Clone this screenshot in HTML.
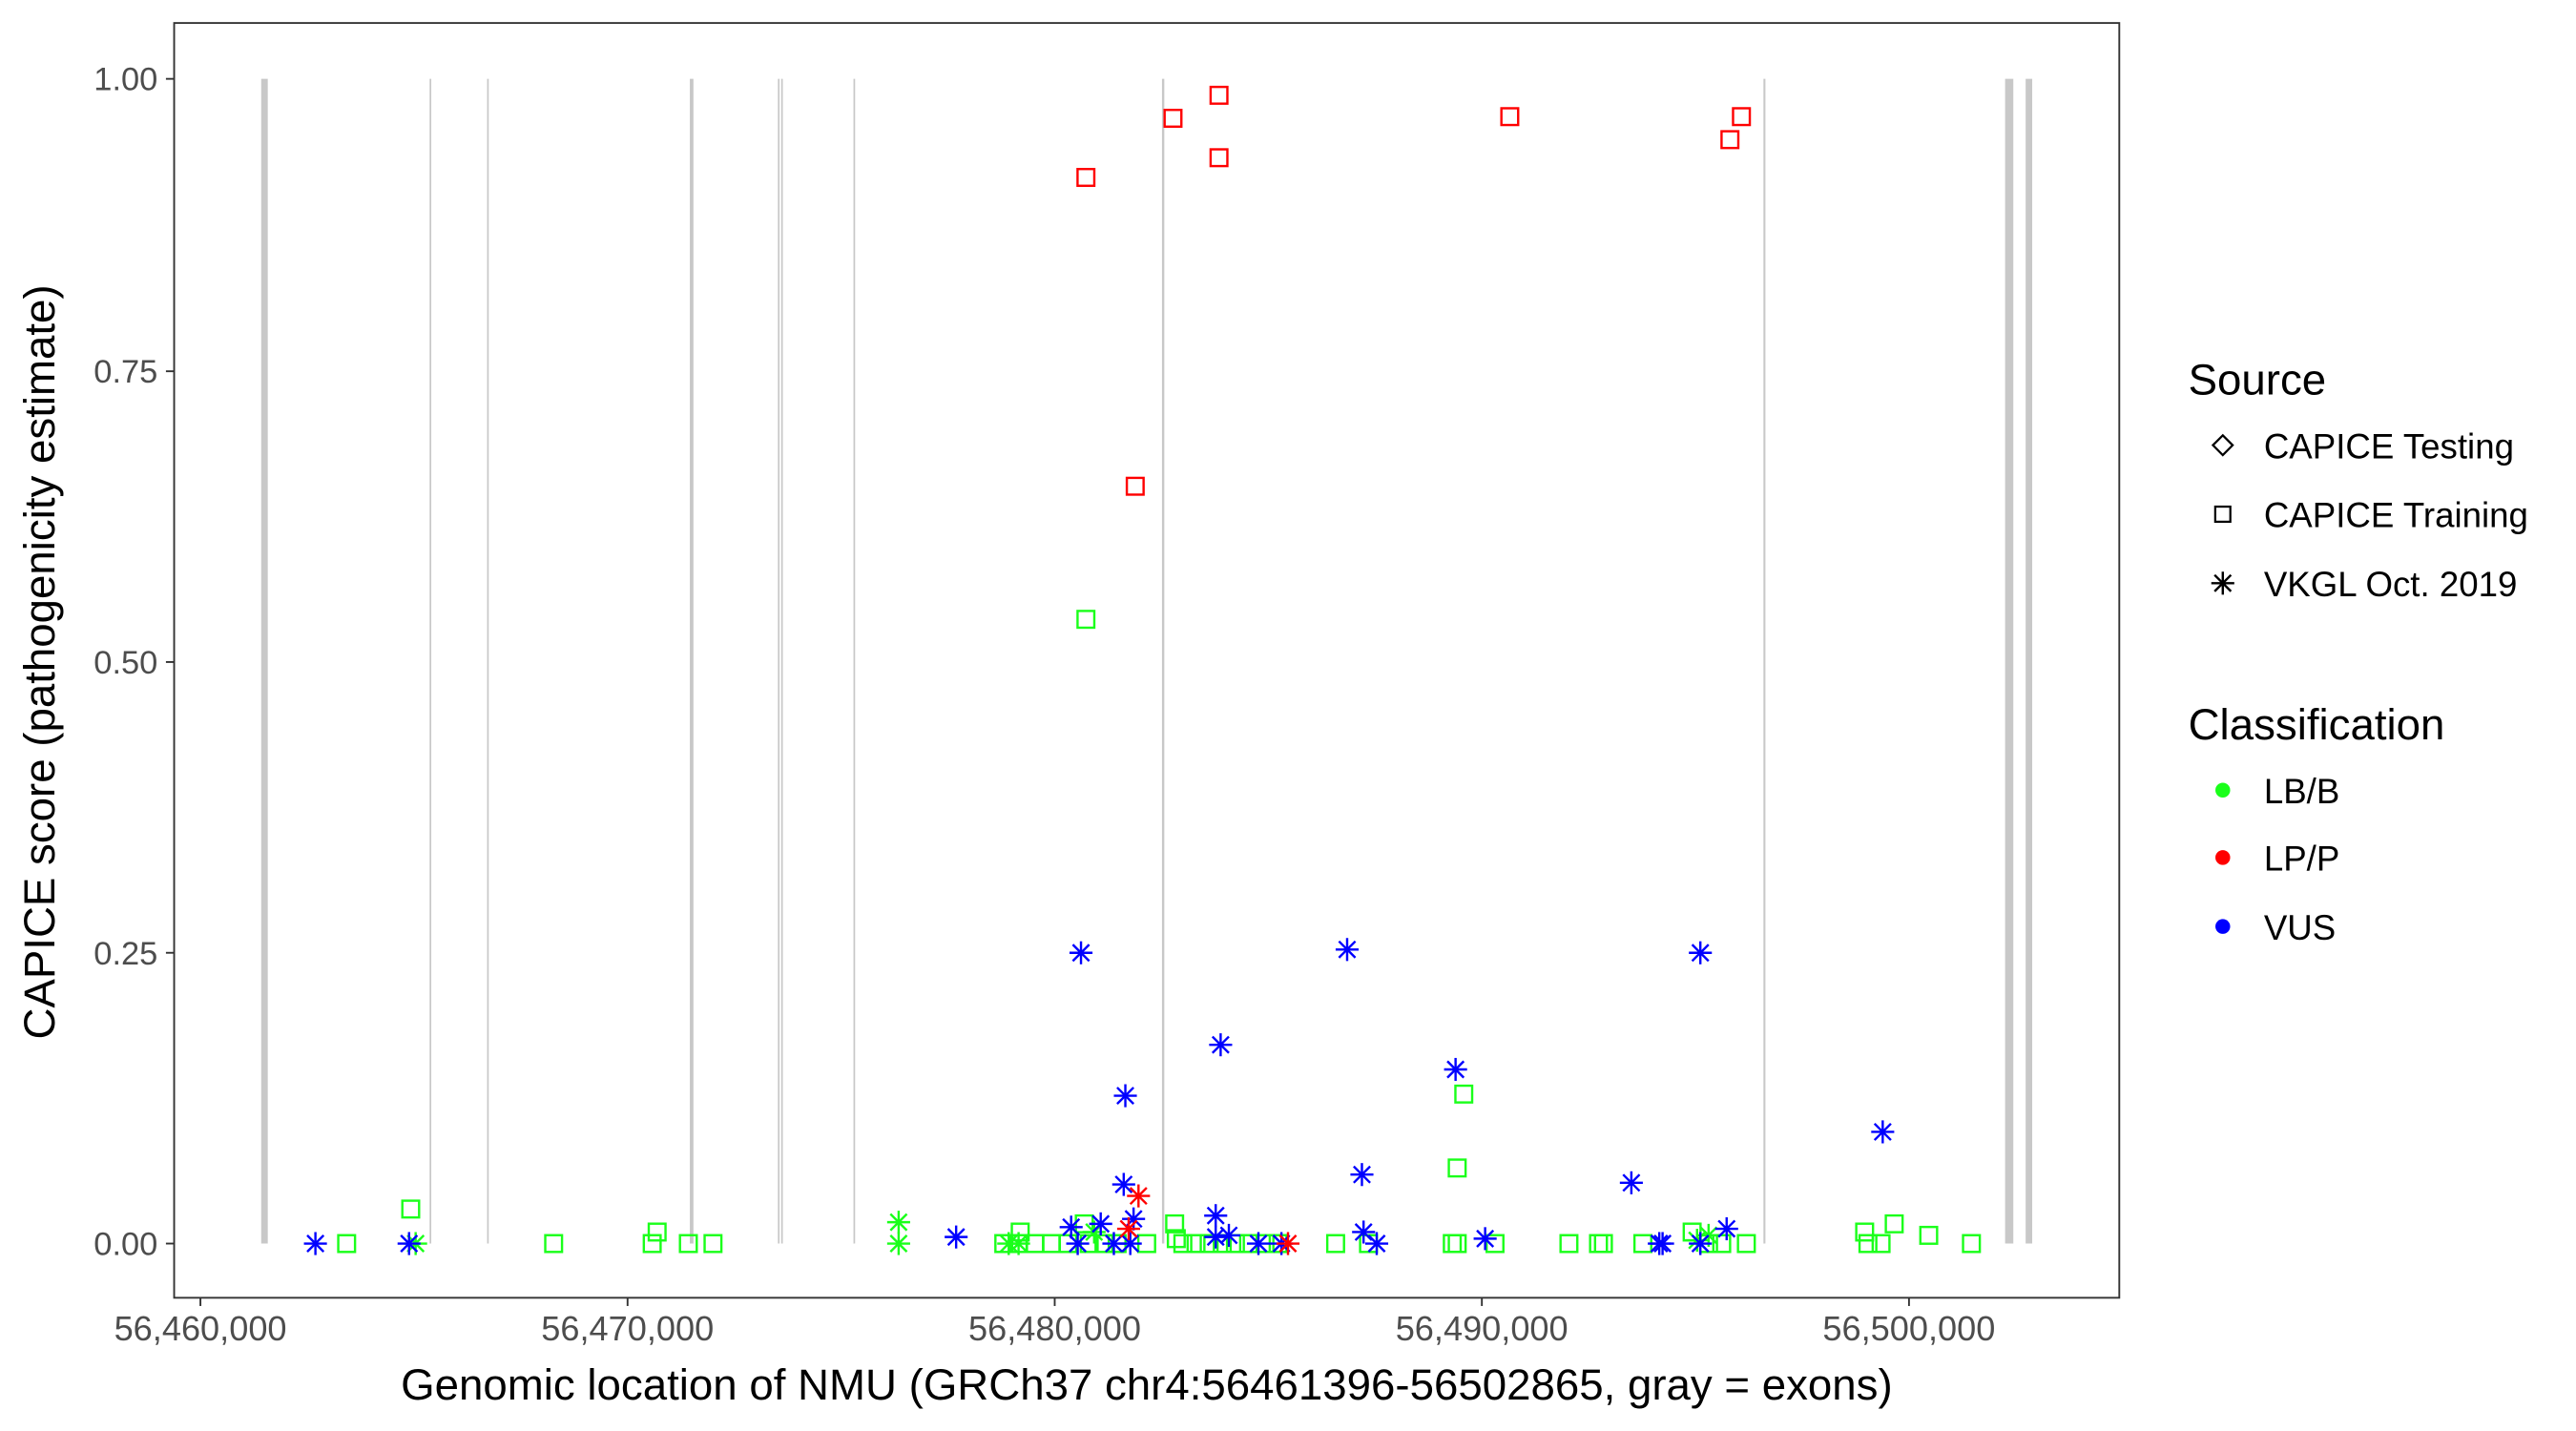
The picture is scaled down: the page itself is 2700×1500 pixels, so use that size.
<!DOCTYPE html>
<html><head><meta charset="utf-8"><style>
html,body{margin:0;padding:0;background:#fff;}
svg{display:block;}
text{font-family:"Liberation Sans",Arial,sans-serif;}
</style></head><body>
<svg width="2700" height="1500" viewBox="0 0 1568 871.1" preserveAspectRatio="none" xmlns="http://www.w3.org/2000/svg">
<defs>
<g id="sq"><rect x="-5.1" y="-5.1" width="10.2" height="10.2" fill="none" stroke-width="1.4"/></g>
<g id="st" stroke-width="1.4"><line x1="0" y1="-7" x2="0" y2="7"/><line x1="-7" y1="0" x2="7" y2="0"/><line x1="-5" y1="-5" x2="5" y2="5"/><line x1="-5" y1="5" x2="5" y2="-5"/></g>
</defs>
<rect x="106" y="14" width="1184" height="776" fill="#fff" stroke="#333" stroke-width="1.1"/>
<g stroke="#c8c8c8">
<line x1="161" y1="48" x2="161" y2="757" stroke-width="4"/>
<line x1="262" y1="48" x2="262" y2="757" stroke-width="1"/>
<line x1="297" y1="48" x2="297" y2="757" stroke-width="1"/>
<line x1="421" y1="48" x2="421" y2="757" stroke-width="2.2"/>
<line x1="474" y1="48" x2="474" y2="757" stroke-width="1"/>
<line x1="476" y1="48" x2="476" y2="757" stroke-width="1"/>
<line x1="520" y1="48" x2="520" y2="757" stroke-width="1"/>
<line x1="708" y1="48" x2="708" y2="757" stroke-width="1.4"/>
<line x1="1074" y1="48" x2="1074" y2="757" stroke-width="1.2"/>
<line x1="1223" y1="48" x2="1223" y2="757" stroke-width="5"/>
<line x1="1235" y1="48" x2="1235" y2="757" stroke-width="4"/>
</g>
<g stroke="#1aff1a">
<use href="#sq" x="661" y="377"/><use href="#sq" x="250" y="736"/><use href="#sq" x="211" y="757"/><use href="#sq" x="337" y="757"/>
<use href="#sq" x="397" y="757"/><use href="#sq" x="400" y="750"/><use href="#sq" x="419" y="757"/><use href="#sq" x="434" y="757"/>
<use href="#sq" x="887" y="711"/><use href="#sq" x="891" y="666"/><use href="#sq" x="621" y="750"/><use href="#sq" x="611" y="757"/>
<use href="#sq" x="620" y="757"/><use href="#sq" x="630" y="757"/><use href="#sq" x="640" y="757"/><use href="#sq" x="650" y="757"/>
<use href="#sq" x="660" y="745"/><use href="#sq" x="663" y="757"/><use href="#sq" x="672" y="757"/><use href="#sq" x="680" y="757"/>
<use href="#sq" x="698" y="757"/><use href="#sq" x="715" y="745"/><use href="#sq" x="716" y="754"/><use href="#sq" x="720" y="757"/>
<use href="#sq" x="728" y="757"/><use href="#sq" x="736" y="757"/><use href="#sq" x="744" y="757"/><use href="#sq" x="752" y="757"/>
<use href="#sq" x="760" y="757"/><use href="#sq" x="770" y="757"/><use href="#sq" x="778" y="757"/><use href="#sq" x="813" y="757"/>
<use href="#sq" x="833" y="757"/><use href="#sq" x="884" y="757"/><use href="#sq" x="887" y="757"/><use href="#sq" x="910" y="757"/>
<use href="#sq" x="955" y="757"/><use href="#sq" x="973" y="757"/><use href="#sq" x="976" y="757"/><use href="#sq" x="1000" y="757"/>
<use href="#sq" x="1030" y="750"/><use href="#sq" x="1040" y="757"/><use href="#sq" x="1048" y="757"/><use href="#sq" x="1063" y="757"/>
<use href="#sq" x="1135" y="750"/><use href="#sq" x="1137" y="757"/><use href="#sq" x="1145" y="757"/><use href="#sq" x="1153" y="745"/>
<use href="#sq" x="1174" y="752"/><use href="#sq" x="1200" y="757"/>
</g>
<g stroke="#ff0000">
<use href="#sq" x="661" y="108"/><use href="#sq" x="714" y="72"/><use href="#sq" x="742" y="58"/><use href="#sq" x="742" y="96"/>
<use href="#sq" x="691" y="296"/><use href="#sq" x="919" y="71"/><use href="#sq" x="1053" y="85"/><use href="#sq" x="1060" y="71"/>
</g>
<g stroke="#1aff1a">
<use href="#st" x="547" y="744"/><use href="#st" x="547" y="757"/><use href="#st" x="253" y="757"/><use href="#st" x="614" y="757"/>
<use href="#st" x="620" y="757"/><use href="#st" x="666" y="750"/><use href="#st" x="1033" y="755"/><use href="#st" x="1040" y="752"/>
</g>
<g stroke="#0000ff">
<use href="#st" x="192" y="757"/><use href="#st" x="249" y="757"/><use href="#st" x="582" y="753"/><use href="#st" x="658" y="580"/>
<use href="#st" x="685" y="667"/><use href="#st" x="684" y="721"/><use href="#st" x="652" y="747"/><use href="#st" x="656" y="757"/>
<use href="#st" x="670" y="745"/><use href="#st" x="690" y="742"/><use href="#st" x="678" y="757"/><use href="#st" x="688" y="757"/>
<use href="#st" x="740" y="740"/><use href="#st" x="743" y="636"/><use href="#st" x="740" y="753"/><use href="#st" x="748" y="752"/>
<use href="#st" x="766" y="757"/><use href="#st" x="780" y="757"/><use href="#st" x="820" y="578"/><use href="#st" x="829" y="715"/>
<use href="#st" x="830" y="750"/><use href="#st" x="838" y="757"/><use href="#st" x="886" y="651"/><use href="#st" x="904" y="754"/>
<use href="#st" x="993" y="720"/><use href="#st" x="1010" y="757"/><use href="#st" x="1012" y="757"/><use href="#st" x="1035" y="580"/>
<use href="#st" x="1035" y="757"/><use href="#st" x="1051" y="748"/><use href="#st" x="1146" y="689"/>
</g>
<g stroke="#ff0000">
<use href="#st" x="693" y="728"/><use href="#st" x="687" y="748"/><use href="#st" x="784" y="757"/>
</g>
<g stroke="#333" stroke-width="1.1">
<line x1="101" y1="48" x2="106" y2="48"/><line x1="101" y1="226" x2="106" y2="226"/><line x1="101" y1="403" x2="106" y2="403"/><line x1="101" y1="580" x2="106" y2="580"/><line x1="101" y1="757" x2="106" y2="757"/>
<line x1="122" y1="790" x2="122" y2="795"/><line x1="382" y1="790" x2="382" y2="795"/><line x1="642" y1="790" x2="642" y2="795"/><line x1="902" y1="790" x2="902" y2="795"/><line x1="1162" y1="790" x2="1162" y2="795"/>
</g>
<g fill="#4d4d4d" font-size="20" text-anchor="end">
<text x="96" y="55">1.00</text><text x="96" y="233">0.75</text><text x="96" y="410">0.50</text><text x="96" y="587">0.25</text><text x="96" y="764">0.00</text>
</g>
<g fill="#4d4d4d" font-size="21" text-anchor="middle">
<text x="122" y="816">56,460,000</text><text x="382" y="816">56,470,000</text><text x="642" y="816">56,480,000</text><text x="902" y="816">56,490,000</text><text x="1162" y="816">56,500,000</text>
</g>
<text x="698" y="852" font-size="26.5" text-anchor="middle" fill="#000">Genomic location of NMU (GRCh37 chr4:56461396-56502865, gray = exons)</text>
<text transform="translate(33,403) rotate(-90)" font-size="26.5" text-anchor="middle" fill="#000">CAPICE score (pathogenicity estimate)</text>
<text x="1332" y="240" font-size="26.5" fill="#000">Source</text>
<path d="M1353,265 L1359,271 L1353,277 L1347,271 Z" fill="none" stroke="#000" stroke-width="1.3"/>
<text x="1378" y="279" font-size="21.3" fill="#000">CAPICE Testing</text>
<rect x="1348.4" y="308.4" width="9.2" height="9.2" fill="none" stroke="#000" stroke-width="1.3"/>
<text x="1378" y="321" font-size="21.3" fill="#000">CAPICE Training</text>
<use href="#st" x="1353" y="355" stroke="#000"/>
<text x="1378" y="363" font-size="21.3" fill="#000">VKGL Oct. 2019</text>
<text x="1332" y="450" font-size="26.5" fill="#000">Classification</text>
<circle cx="1353" cy="481" r="4.5" fill="#1aff1a"/><text x="1378" y="489" font-size="21.3" fill="#000">LB/B</text>
<circle cx="1353" cy="522" r="4.5" fill="#ff0000"/><text x="1378" y="530" font-size="21.3" fill="#000">LP/P</text>
<circle cx="1353" cy="564" r="4.5" fill="#0000ff"/><text x="1378" y="572" font-size="21.3" fill="#000">VUS</text>
</svg>
</body></html>
